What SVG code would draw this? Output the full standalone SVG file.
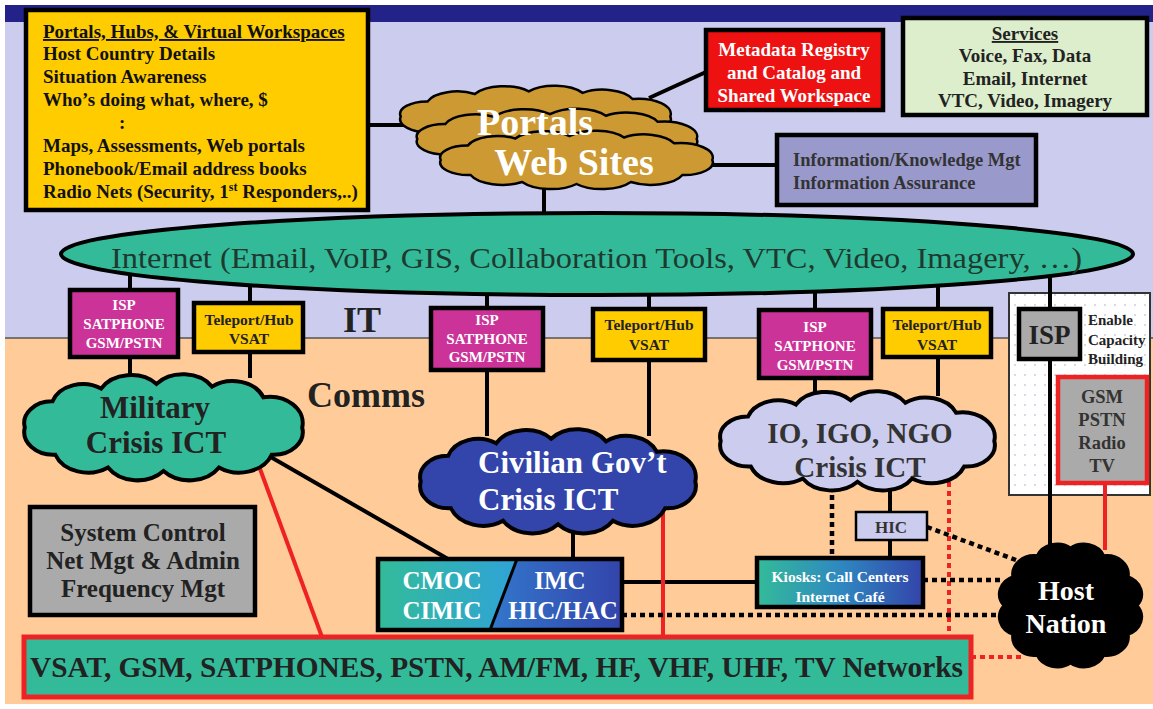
<svg xmlns="http://www.w3.org/2000/svg" width="1153" height="709" viewBox="0 0 1153 709">
<defs>
<style>
.s{font-family:"Liberation Serif","Times New Roman",serif;font-weight:bold}
.c{text-anchor:middle}
.ln{stroke:#000;stroke-width:4;fill:none}
.rd{stroke:#ee2222;stroke-width:4;fill:none}
.dk{stroke:#000;stroke-width:4.5;stroke-dasharray:5 4;fill:none}
.rdd{stroke:#ee2222;stroke-width:4;stroke-dasharray:5 4;fill:none}
.box{stroke:#000;stroke-width:4.5}
.cl{stroke:#000;stroke-width:4}
.clt{stroke:#000;stroke-width:2.5}
</style>
<path id="cloudA" vector-effect="non-scaling-stroke" d="M-100 0A20 20 0 0 1-80-24A23 23 0 0 1-45-35.7A25 25 0 0 1-5-40A25 25 0 0 1 35-37.5A24 24 0 0 1 72-27.8A24 24 0 0 1 100 0A21 21 0 0 1 78 25A25 25 0 0 1 40 36.7A25 25 0 0 1 0 40A25 25 0 0 1-40 36.7A25 25 0 0 1-78 25A21 21 0 0 1-100 0Z"/>
<path id="cloudB" vector-effect="non-scaling-stroke" d="M50 0A16 16 0 0 1 43.3 25A16 16 0 0 1 25 43.3A16 16 0 0 1 0 50A16 16 0 0 1-25 43.3A16 16 0 0 1-43.3 25A16 16 0 0 1-50 0A16 16 0 0 1-43.3-25A16 16 0 0 1-25-43.3A16 16 0 0 1 0-50A16 16 0 0 1 25-43.3A16 16 0 0 1 43.3-25A16 16 0 0 1 50 0Z"/>
<pattern id="dots" width="10" height="10" patternUnits="userSpaceOnUse">
<rect width="10" height="10" fill="#ffffff"/>
<circle cx="5" cy="5" r="0.9" fill="#c8c8d8"/>
</pattern>
<linearGradient id="gL" x1="0" y1="0" x2="1" y2="0"><stop offset="0" stop-color="#33bb99"/><stop offset="1" stop-color="#2fa3d8"/></linearGradient>
<linearGradient id="gR" x1="0" y1="0" x2="1" y2="0"><stop offset="0" stop-color="#3377cc"/><stop offset="1" stop-color="#3344aa"/></linearGradient>
<linearGradient id="gK" x1="0" y1="0" x2="1" y2="0"><stop offset="0" stop-color="#33bb99"/><stop offset="0.5" stop-color="#2f88c0"/><stop offset="1" stop-color="#3344aa"/></linearGradient>
</defs>

<!-- background -->
<rect x="0" y="0" width="1153" height="709" fill="#ffffff"/>
<rect x="5" y="5" width="1148" height="18" fill="#222288"/>
<rect x="5" y="22" width="1148" height="316" fill="#ccccee"/>
<rect x="5" y="338" width="1148" height="366" fill="#ffcc99"/>
<line x1="5" y1="338" x2="1153" y2="338" stroke="#555" stroke-width="1.5"/>

<g id="capacity-panel">
<rect x="1009" y="293" width="141" height="202" fill="url(#dots)" stroke="#333" stroke-width="2"/>
<text class="s" font-size="15" fill="#222"><tspan x="1088" y="325">Enable</tspan><tspan x="1088" y="345">Capacity</tspan><tspan x="1088" y="364">Building</tspan></text>
</g>

<g id="labels">
<text class="s" x="343" y="332" font-size="36" fill="#222">IT</text>
<text class="s" x="307" y="407" font-size="36" fill="#222">Comms</text>
</g>

<g id="connectors">
<line class="ln" x1="368" y1="125" x2="411" y2="125"/>
<line class="ln" x1="649" y1="98" x2="706" y2="72"/>
<line class="ln" x1="705" y1="165" x2="777" y2="165"/>
<line class="ln" x1="544" y1="185" x2="544" y2="216"/>
<line class="ln" x1="130" y1="270" x2="130" y2="378"/>
<line class="ln" x1="250" y1="278" x2="250" y2="378"/>
<line class="ln" x1="487" y1="285" x2="487" y2="436"/>
<line class="ln" x1="649" y1="285" x2="649" y2="436"/>
<line class="ln" x1="815" y1="285" x2="815" y2="396"/>
<line class="ln" x1="938" y1="278" x2="938" y2="396"/>
<line class="ln" x1="1050" y1="272" x2="1050" y2="550"/>
<line class="ln" x1="262" y1="452" x2="448" y2="559"/>
<line class="ln" x1="573" y1="530" x2="573" y2="559"/>
<line class="ln" x1="622" y1="582" x2="757" y2="582"/>
<line class="ln" x1="890" y1="488" x2="890" y2="558"/>
<line class="rd" x1="256" y1="458" x2="322" y2="637"/>
<line class="rd" x1="663" y1="498" x2="663" y2="637"/>
<line class="rd" x1="1105" y1="483" x2="1105" y2="550"/>
<line class="rdd" x1="949" y1="482" x2="949" y2="637"/>
<line class="rdd" x1="971" y1="657" x2="1025" y2="657"/>
<line class="dk" x1="832" y1="486" x2="832" y2="558"/>
<line class="dk" x1="927" y1="527" x2="1016" y2="560"/>
<line class="dk" x1="923" y1="580" x2="1003" y2="580"/>
<line class="dk" x1="622" y1="615" x2="1003" y2="615"/>
</g>

<g id="portals-hubs">
<rect class="box" x="26" y="10" width="342" height="200" fill="#ffcc00" stroke-width="5"/>
<text class="s" font-size="19" fill="#111">
<tspan x="43" y="38" text-decoration="underline">Portals, Hubs, &amp; Virtual Workspaces</tspan>
<tspan x="43" y="60">Host Country Details</tspan>
<tspan x="43" y="83">Situation Awareness</tspan>
<tspan x="43" y="106">Who’s doing what, where, $</tspan>
<tspan x="119" y="129">:</tspan>
<tspan x="43" y="152">Maps, Assessments, Web portals</tspan>
<tspan x="43" y="175">Phonebook/Email address books</tspan>
<tspan x="43" y="198">Radio Nets (Security, 1<tspan font-size="12" dy="-7">st</tspan><tspan dy="7"> Responders,..)</tspan></tspan>
</text>
</g>

<g id="metadata-registry">
<rect class="box" x="706" y="30" width="177" height="80" fill="#ee1111"/>
<text class="s c" font-size="19" fill="#ffffff"><tspan x="794" y="56">Metadata Registry</tspan><tspan x="794" y="79">and Catalog and</tspan><tspan x="794" y="102">Shared Workspace</tspan></text>
</g>

<g id="services">
<rect class="box" x="903" y="18" width="244" height="97" fill="#ddeecc" stroke-width="5"/>
<text class="s c" font-size="19" fill="#222"><tspan x="1025" y="40" text-decoration="underline">Services</tspan><tspan x="1025" y="62">Voice, Fax, Data</tspan><tspan x="1025" y="85">Email, Internet</tspan><tspan x="1025" y="107">VTC, Video, Imagery</tspan></text>
</g>

<g id="info-mgt">
<rect class="box" x="777" y="135" width="259" height="70" fill="#9999cc"/>
<text class="s" font-size="18.5" fill="#333"><tspan x="793" y="166">Information/Knowledge Mgt</tspan><tspan x="793" y="189">Information Assurance</tspan></text>
</g>

<g id="portals-cloud">
<use href="#cloudA" class="clt" fill="#cc9933" transform="translate(535.5,116.5) scale(1.348,0.63)"/>
<use href="#cloudA" class="clt" fill="#cc9933" transform="translate(557,139) scale(1.397,0.62)"/>
<use href="#cloudA" class="clt" fill="#cc9933" transform="translate(576.5,160) scale(1.358,0.6)"/>
<text class="s c" x="535" y="135" font-size="38" fill="#ffffff">Portals</text>
<text class="s c" x="574" y="175" font-size="38" fill="#ffffff">Web Sites</text>
</g>

<g id="internet">
<ellipse cx="597" cy="254" rx="536" ry="41" fill="#33bb99" stroke="#000" stroke-width="4"/>
<text x="111" y="268" font-family="'Liberation Serif','Times New Roman',serif" font-size="30" fill="#1e3a30" textLength="971" lengthAdjust="spacingAndGlyphs">Internet (Email, VoIP, GIS, Collaboration Tools, VTC, Video, Imagery, …)</text>
</g>

<g id="isp1">
<rect class="box" x="70" y="290" width="108" height="67" fill="#cc3399"/>
<text class="s c" font-size="15" fill="#ffffff"><tspan x="124" y="310">ISP</tspan><tspan x="124" y="329">SATPHONE</tspan><tspan x="124" y="348">GSM/PSTN</tspan></text>
</g>
<g id="teleport1">
<rect class="box" x="194" y="303" width="109" height="49" fill="#ffcc00"/>
<text class="s c" font-size="15.5" fill="#222"><tspan x="249" y="325">Teleport/Hub</tspan><tspan x="249" y="344">VSAT</tspan></text>
</g>
<g id="isp2">
<rect class="box" x="431" y="308" width="112" height="62" fill="#cc3399"/>
<text class="s c" font-size="15" fill="#ffffff"><tspan x="487" y="325">ISP</tspan><tspan x="487" y="344">SATPHONE</tspan><tspan x="487" y="362">GSM/PSTN</tspan></text>
</g>
<g id="teleport2">
<rect class="box" x="593" y="309" width="112" height="51" fill="#ffcc00"/>
<text class="s c" font-size="15.5" fill="#222"><tspan x="649" y="330">Teleport/Hub</tspan><tspan x="649" y="350">VSAT</tspan></text>
</g>
<g id="isp3">
<rect class="box" x="759" y="310" width="112" height="68" fill="#cc3399"/>
<text class="s c" font-size="15" fill="#ffffff"><tspan x="815" y="332">ISP</tspan><tspan x="815" y="351">SATPHONE</tspan><tspan x="815" y="370">GSM/PSTN</tspan></text>
</g>
<g id="teleport3">
<rect class="box" x="883" y="309" width="108" height="48" fill="#ffcc00"/>
<text class="s c" font-size="15.5" fill="#222"><tspan x="937" y="330">Teleport/Hub</tspan><tspan x="937" y="350">VSAT</tspan></text>
</g>
<g id="isp-host">
<rect class="box" x="1019" y="309" width="61" height="50" fill="#aaaaaa"/>
<text class="s c" x="1049.5" y="344" font-size="27" fill="#222">ISP</text>
</g>
<g id="gsm-host">
<rect x="1058" y="377" width="89" height="106" fill="#aaaaaa" stroke="#ee2222" stroke-width="4.5"/>
<text class="s c" font-size="18.5" fill="#333"><tspan x="1102" y="403">GSM</tspan><tspan x="1102" y="426">PSTN</tspan><tspan x="1102" y="449">Radio</tspan><tspan x="1102" y="472">TV</tspan></text>
</g>

<g id="military">
<use href="#cloudA" class="cl" fill="#33bb99" transform="translate(163.5,427.5) scale(1.387,1.09)"/>
<text class="s c" font-size="31" fill="#222"><tspan x="155" y="418">Military</tspan><tspan x="156" y="453">Crisis ICT</tspan></text>
</g>
<g id="civilian">
<use href="#cloudA" class="cl" fill="#3344aa" transform="translate(558,481.5) scale(1.373,1.07)"/>
<text class="s" font-size="31" fill="#ffffff"><tspan x="478" y="473">Civilian Gov’t</tspan><tspan x="478" y="510">Crisis ICT</tspan></text>
</g>
<g id="io-igo-ngo">
<use href="#cloudA" class="cl" fill="#ccccee" transform="translate(857.5,441) scale(1.368,1.02)"/>
<text class="s c" font-size="29" fill="#333"><tspan x="860" y="443">IO, IGO, NGO</tspan><tspan x="860" y="477">Crisis ICT</tspan></text>
</g>
<g id="host-nation">
<use href="#cloudB" class="cl" fill="#000000" transform="translate(1070.5,605.5) scale(1.318,1.136)"/>
<text class="s c" font-size="28" fill="#ffffff"><tspan x="1066" y="600">Host</tspan><tspan x="1066" y="633">Nation</tspan></text>
</g>

<g id="system-control">
<rect class="box" x="30" y="507" width="225" height="108" fill="#aaaaaa"/>
<text class="s c" font-size="25" fill="#222"><tspan x="143" y="541">System Control</tspan><tspan x="143" y="569">Net Mgt &amp; Admin</tspan><tspan x="143" y="597">Frequency Mgt</tspan></text>
</g>

<g id="cmoc-imc">
<polygon points="378,559 517,559 490,630 378,630" fill="url(#gL)"/>
<polygon points="517,559 622,559 622,630 490,630" fill="url(#gR)"/>
<rect x="378" y="559" width="244" height="71" fill="none" stroke="#000" stroke-width="4.5"/>
<line x1="517" y1="559" x2="490" y2="630" stroke="#000" stroke-width="3"/>
<text class="s c" font-size="25" fill="#ffffff"><tspan x="442" y="589">CMOC</tspan><tspan x="442" y="619">CIMIC</tspan><tspan x="560" y="589">IMC</tspan><tspan x="563" y="619">HIC/HAC</tspan></text>
</g>

<g id="hic">
<rect x="856" y="512" width="71" height="28" fill="#ccccee" stroke="#000" stroke-width="2.5"/>
<text class="s c" x="891" y="533" font-size="17" fill="#333">HIC</text>
</g>

<g id="kiosks">
<rect class="box" x="757" y="558" width="166" height="49" fill="url(#gK)"/>
<text class="s c" font-size="15.5" fill="#ffffff"><tspan x="840" y="582">Kiosks: Call Centers</tspan><tspan x="840" y="602">Internet Café</tspan></text>
</g>

<g id="networks">
<rect x="24" y="637" width="947" height="60" fill="#33bb99" stroke="#ee2222" stroke-width="5"/>
<text class="s" x="30" y="677" font-size="29" fill="#222" textLength="933" lengthAdjust="spacingAndGlyphs">VSAT, GSM, SATPHONES, PSTN, AM/FM, HF, VHF, UHF, TV Networks</text>
</g>
</svg>
